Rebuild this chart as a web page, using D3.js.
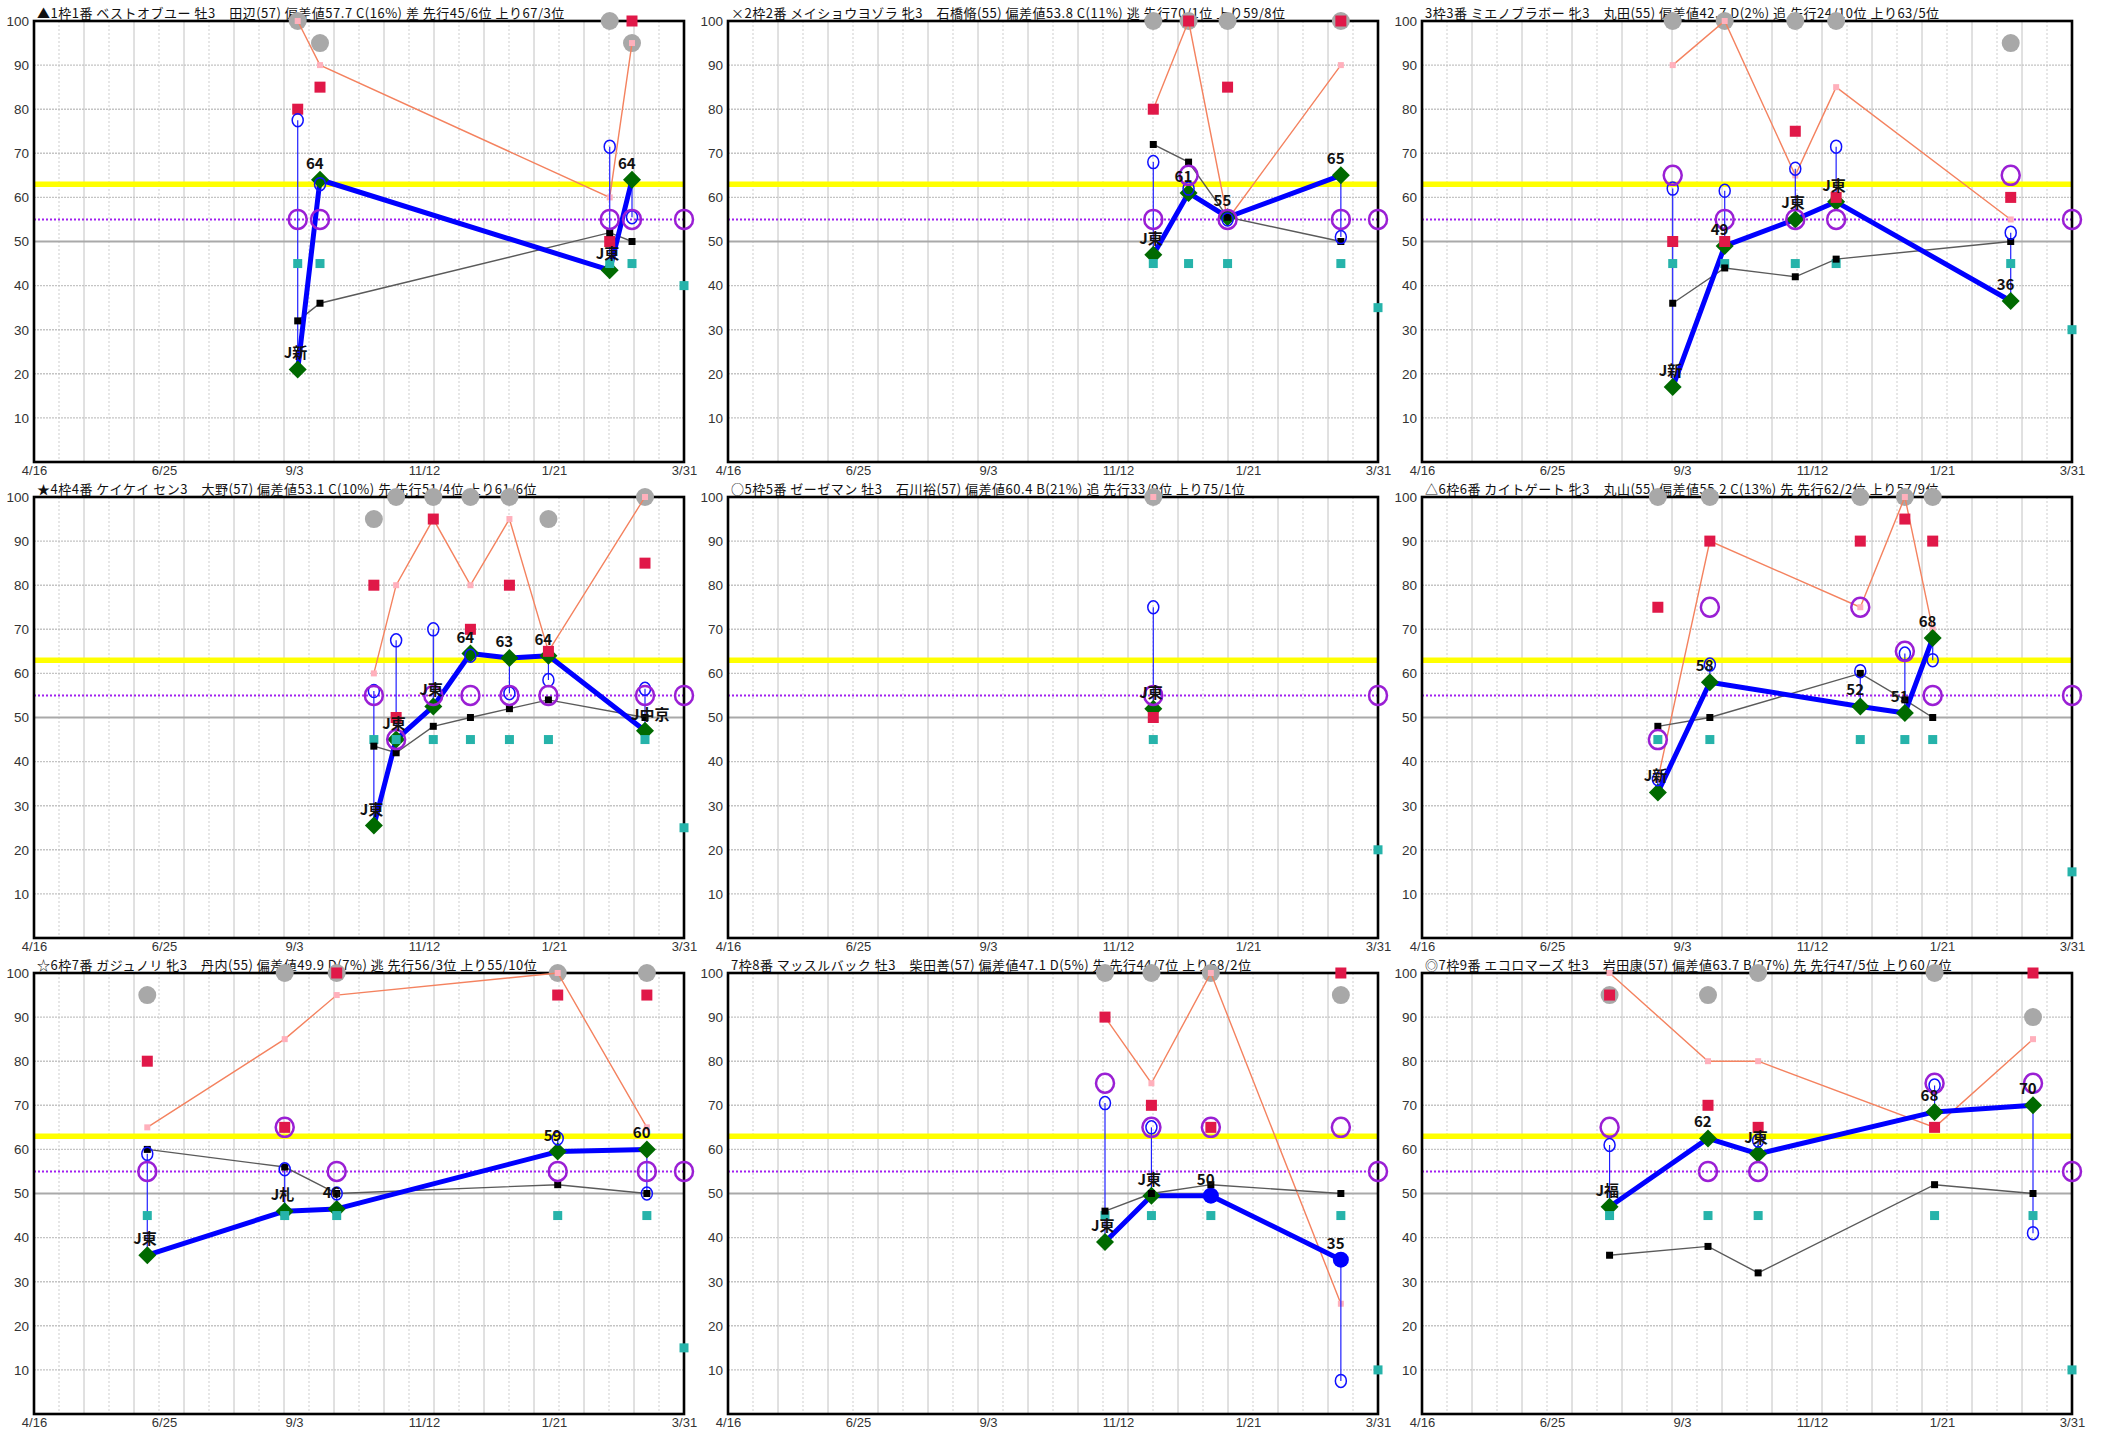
<!DOCTYPE html>
<html><head><meta charset="utf-8">
<script src="https://cdn.jsdelivr.net/npm/d3@7"></script>
<style>body{margin:0;background:#fff} svg{display:block}</style>
</head><body>
<svg id="c" width="2107" height="1437"></svg>
<script>
// ---------- data ----------
const xTickLabels = ["4/16","6/25","9/3","11/12","1/21","3/31"];
const xTickDates  = ["2023-04-16","2023-06-25","2023-09-03","2023-11-12","2024-01-21","2024-03-31"];
const yTicks = [10,20,30,40,50,60,70,80,90,100];
const refYellow = 63, refPurple = 55, refGray = 50;
const todayDate = "2024-03-31";

const titles = [
  "▲1枠1番 ベストオブユー 牡3　田辺(57) 偏差値57.7 C(16%) 差 先行45/6位 上り67/3位",
  "×2枠2番 メイショウヨゾラ 牝3　石橋脩(55) 偏差値53.8 C(11%) 逃 先行70/1位 上り59/8位",
  "3枠3番 ミエノブラボー 牝3　丸田(55) 偏差値42.7 D(2%) 追 先行24/10位 上り63/5位",
  "★4枠4番 ケイケイ セン3　大野(57) 偏差値53.1 C(10%) 先 先行51/4位 上り61/6位",
  "○5枠5番 ゼーゼマン 牡3　石川裕(57) 偏差値60.4 B(21%) 追 先行33/9位 上り75/1位",
  "△6枠6番 カイトゲート 牝3　丸山(55) 偏差値55.2 C(13%) 先 先行62/2位 上り57/9位",
  "☆6枠7番 ガジュノリ 牝3　丹内(55) 偏差値49.9 D(7%) 逃 先行56/3位 上り55/10位",
  "7枠8番 マッスルバック 牡3　柴田善(57) 偏差値47.1 D(5%) 先 先行44/7位 上り68/2位",
  "◎7枠9番 エコロマーズ 牡3　岩田康(57) 偏差値63.7 B(27%) 先 先行47/5位 上り60/7位"
];

const raceDates = [
  ["2023-09-05","2023-09-17","2024-02-20","2024-03-03"],
  ["2023-12-01","2023-12-20","2024-01-10","2024-03-11"],
  ["2023-08-29","2023-09-26","2023-11-03","2023-11-25","2024-02-27"],
  ["2023-10-16","2023-10-28","2023-11-17","2023-12-07","2023-12-28","2024-01-18","2024-03-10"],
  ["2023-12-01"],
  ["2023-08-21","2023-09-18","2023-12-08","2024-01-01","2024-01-16"],
  ["2023-06-16","2023-08-29","2023-09-26","2024-01-23","2024-03-11"],
  ["2023-11-05","2023-11-30","2024-01-01","2024-03-11"],
  ["2023-07-26","2023-09-17","2023-10-14","2024-01-17","2024-03-10"]
];
const mainValues = [
  [21,64,43.5,64],
  [47,61,55.5,65],
  [17,49,55,59,36.5],
  [25.5,45,52.5,64.5,63.5,64,47],
  [52],
  [33,58,52.5,51,68],
  [36,46,46.5,59.5,60],
  [39,49.5,49.5,35],
  [47,62.5,59,68.5,70]
];
const mainLabels = [
  ["J新","64","J東","64"],
  ["J東","61","55","65"],
  ["J新","49","J東","J東","36"],
  ["J東","J東","J東","64","63","64","J中京"],
  ["J東"],
  ["J新","58","52","51","68"],
  ["J東","J札","46","59","60"],
  ["J東","J東","50","35"],
  ["J福","62","J東","68","70"]
];
const mainMarkers = [
  ["d","d","d","d"],
  ["d","d","d","d"],
  ["d","d","d","d","d"],
  ["d","d","d","d","d","d","d"],
  ["d"],
  ["d","d","d","d","d"],
  ["d","d","d","d","d"],
  ["d","d","c","c"],
  ["d","d","d","d","d"]
];
const blackValues = [
  [32,36,52,50],
  [72,68,55.5,50],
  [36,44,42,46,50],
  [43.5,42,48,50,52,54,50],
  [null],
  [48,50,60,54,50],
  [60,56,50,52,50],
  [46,50,52,50],
  [36,38,32,52,50]
];
const salmonValues = [
  [100,90,60,95],
  [80,100,55,90],
  [90,100,65,85,55],
  [60,80,95,80,95,65,100],
  [100],
  [36,90,75,100,70],
  [65,85,95,100,65],
  [90,75,100,25],
  [100,80,80,65,85]
];
const redValues = [
  [80,85,50,100],
  [80,100,85,100],
  [50,50,75,60,60],
  [80,50,95,70,80,65,85],
  [50],
  [75,90,90,95,90],
  [80,65,100,95,95],
  [90,70,65,100],
  [95,70,65,65,100]
];
const tealValues = [
  [45,45,45,45],
  [45,45,45,45],
  [45,45,45,45,45],
  [45,45,45,45,45,45,45],
  [45],
  [45,45,45,45,45],
  [45,45,45,45,45],
  [45,45,45,45],
  [45,45,45,45,45]
];
const grayValues = [
  [100,95,100,95],
  [100,100,100,100],
  [100,100,100,100,95],
  [95,100,100,100,100,95,100],
  [100],
  [100,100,100,100,100],
  [95,100,100,100,100],
  [100,100,100,95],
  [95,95,100,100,90]
];
const purpleValues = [
  [55,55,55,55],
  [55,65,55,55],
  [65,55,55,55,65],
  [55,45,55,55,55,55,55],
  [55],
  [45,75,75,65,55],
  [55,65,55,55,55],
  [75,65,65,65],
  [65,55,55,75,75]
];
const blueValues = [
  [77.5,63,71.5,55.5],
  [68,62,55,51],
  [62,61.5,66.5,71.5,52],
  [56,67.5,70,64,55.5,58.5,56.5],
  [75],
  [36,62,60.5,64.5,63],
  [59,55.5,50,62.5,50],
  [70.5,65,null,7.5],
  [61,null,62,74.5,41]
];
const todayTeal   = [40,35,30,25,20,15,15,10,10];
const todayPurple = [55,55,55,55,55,55,55,55,55];

// ---------- layout ----------
const W = 650, H = 441;
const lefts = [34, 728, 1422], tops = [21, 497, 973];
const parse = d3.timeParse("%Y-%m-%d");
const x = d3.scaleTime().domain([parse("2023-04-16"), parse(todayDate)]).range([0, W]);
const y = d3.scaleLinear().domain([0, 100]).range([H, 0]);
const gridX = d3.scaleLinear().domain([0, 26]).range([0, W]);

const svg = d3.select("#c");
const CJK = "'Noto Sans CJK JP','Liberation Sans',sans-serif";
const LAT = "'Liberation Sans','DejaVu Sans',sans-serif";

function sq(g, pts, size, fill) {
  g.selectAll(null).data(pts.filter(d => d.v != null)).join("rect")
    .attr("x", d => d.x - size/2).attr("y", d => d.y - size/2)
    .attr("width", size).attr("height", size).attr("fill", fill);
}

for (let i = 0; i < 9; i++) {
  const g = svg.append("g").attr("transform", `translate(${lefts[i%3]},${tops[Math.floor(i/3)]})`);
  const dates = raceDates[i].map(parse);
  const mk = arr => arr.map((v, k) => ({x: x(dates[k]), y: v == null ? 0 : y(v), v: v, k: k}));

  // title
  g.append("text").attr("x", 3).attr("y", -3)
    .attr("font-family", CJK).attr("font-size", 13).attr("letter-spacing", 0.5).attr("fill", "#111")
    .text(titles[i]);

  // vertical grid
  g.selectAll(null).data(d3.range(1, 26)).join("line")
    .attr("x1", d => gridX(d)).attr("x2", d => gridX(d))
    .attr("y1", 0).attr("y2", H)
    .attr("stroke", d => d % 2 ? "#cdcdcd" : "#c2c2c2")
    .attr("stroke-width", 1)
    .attr("stroke-dasharray", d => d % 2 ? "2,2" : null);
  // horizontal grid
  g.selectAll(null).data(yTicks.filter(t => t !== 100 && t !== refGray)).join("line")
    .attr("x1", 0).attr("x2", W).attr("y1", d => y(d)).attr("y2", d => y(d))
    .attr("stroke", "#c4c4c4").attr("stroke-width", 1.4).attr("stroke-dasharray", "2,1");
  g.append("line").attr("x1", 0).attr("x2", W).attr("y1", y(refGray)).attr("y2", y(refGray))
    .attr("stroke", "#a9a9a9").attr("stroke-width", 2);

  // reference lines
  g.append("line").attr("x1", 0).attr("x2", W).attr("y1", y(refYellow)).attr("y2", y(refYellow))
    .attr("stroke", "#ffff00").attr("stroke-width", 5.5);
  g.append("line").attr("x1", 0).attr("x2", W).attr("y1", y(refPurple)).attr("y2", y(refPurple))
    .attr("stroke", "#a020f0").attr("stroke-width", 2).attr("stroke-dasharray", "2,2");

  // frame
  g.append("rect").attr("x", 0).attr("y", 0).attr("width", W).attr("height", H)
    .attr("fill", "none").attr("stroke", "#000").attr("stroke-width", 2.6);

  // axes
  const ya = g.append("g").call(d3.axisLeft(y).tickValues(yTicks).tickSize(0).tickPadding(5));
  ya.select(".domain").remove();
  ya.selectAll("text").attr("font-family", LAT).attr("font-size", 13.5).attr("fill", "#333");
  const xa = g.append("g").attr("transform", `translate(0,${H})`)
    .call(d3.axisBottom(x).tickValues(xTickDates.map(parse)).tickFormat((d, k) => xTickLabels[k]).tickSize(0).tickPadding(4));
  xa.select(".domain").remove();
  xa.selectAll("text").attr("font-family", LAT).attr("font-size", 13).attr("fill", "#333");

  const main = mk(mainValues[i]), black = mk(blackValues[i]), salmon = mk(salmonValues[i]);
  const red = mk(redValues[i]), teal = mk(tealValues[i]), gray = mk(grayValues[i]);
  const purple = mk(purpleValues[i]), blue = mk(blueValues[i]);
  const line = d3.line().defined(d => d.v != null).x(d => d.x).y(d => d.y);

  // gray circles
  g.selectAll(null).data(gray.filter(d => d.v != null)).join("circle")
    .attr("cx", d => d.x).attr("cy", d => d.y).attr("r", 9).attr("fill", "#a8a8a8");
  // salmon line + markers
  g.append("path").attr("d", line(salmon)).attr("fill", "none").attr("stroke", "#f4825f").attr("stroke-width", 1.4);
  sq(g, salmon, 6, "#ffb0bc");
  // black line
  g.append("path").attr("d", line(black)).attr("fill", "none").attr("stroke", "#5a5a5a").attr("stroke-width", 1.4);
  // blue range lines
  g.selectAll(null).data(blue.filter(d => d.v != null)).join("line")
    .attr("x1", d => d.x).attr("x2", d => d.x)
    .attr("y1", d => d.y).attr("y2", d => main[d.k].y)
    .attr("stroke", "#2020ff").attr("stroke-width", 1.2);
  // main line
  g.append("path").attr("d", line(main)).attr("fill", "none").attr("stroke", "#0000ff")
    .attr("stroke-width", 5).attr("stroke-linejoin", "round");
  // main markers
  g.selectAll(null).data(main.filter(d => mainMarkers[i][d.k] === "d")).join("path")
    .attr("d", d => `M${d.x},${d.y-9}L${d.x+9},${d.y}L${d.x},${d.y+9}L${d.x-9},${d.y}Z`)
    .attr("fill", "#006a00");
  g.selectAll(null).data(main.filter(d => mainMarkers[i][d.k] === "c")).join("circle")
    .attr("cx", d => d.x).attr("cy", d => d.y).attr("r", 8).attr("fill", "#0000ff");
  // scatter squares
  sq(g, teal, 9, "#26b3aa");
  sq(g, red, 11, "#e01848");
  sq(g, black, 7, "#000");
  // blue open circles
  g.selectAll(null).data(blue.filter(d => d.v != null)).join("ellipse")
    .attr("cx", d => d.x).attr("cy", d => d.y).attr("rx", 5.5).attr("ry", 6.5)
    .attr("fill", "none").attr("stroke", "#1010ff").attr("stroke-width", 1.5);
  // purple circles
  g.selectAll(null).data(purple.filter(d => d.v != null)).join("ellipse")
    .attr("cx", d => d.x).attr("cy", d => d.y).attr("rx", 9).attr("ry", 9.5)
    .attr("fill", "none").attr("stroke", "#9a1fd4").attr("stroke-width", 2.5);
  // today's entries
  const tx = x(parse(todayDate));
  g.append("rect").attr("x", tx - 4.5).attr("y", y(todayTeal[i]) - 4.5).attr("width", 9).attr("height", 9).attr("fill", "#26b3aa");
  g.append("ellipse").attr("cx", tx).attr("cy", y(todayPurple[i])).attr("rx", 9).attr("ry", 9.5)
    .attr("fill", "none").attr("stroke", "#9a1fd4").attr("stroke-width", 2.5);
  // labels
  g.selectAll(null).data(main).join("text")
    .attr("x", d => d.x - 14).attr("y", d => d.y - 11)
    .attr("font-family", CJK).attr("font-weight", 700).attr("font-size", 15).attr("fill", "#111")
    .text(d => mainLabels[i][d.k]);
}
</script>
</body></html>
